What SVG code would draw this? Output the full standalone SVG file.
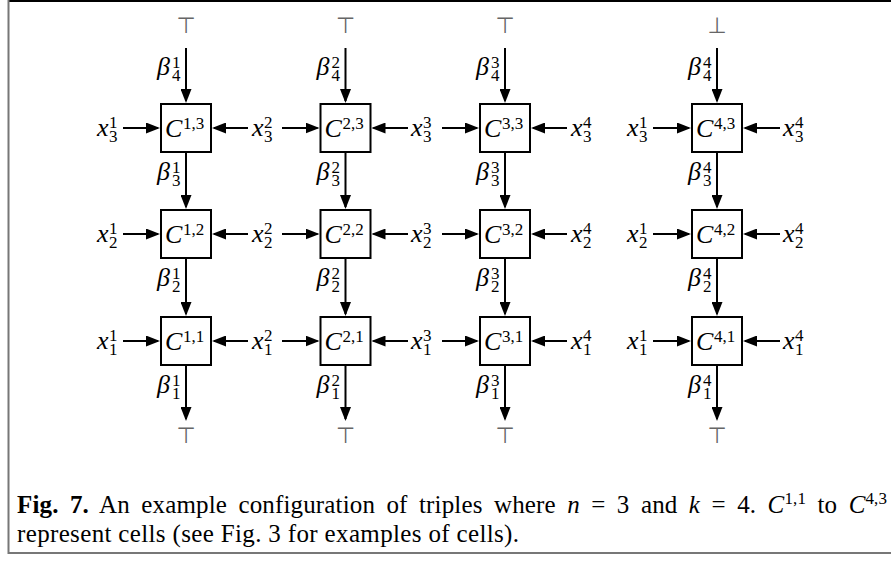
<svg xmlns="http://www.w3.org/2000/svg" width="891" height="561" viewBox="0 0 891 561">
<defs>
<marker id="ah" markerUnits="userSpaceOnUse" markerWidth="14" markerHeight="11" refX="12" refY="5.5" orient="auto">
<path d="M0,0 L14,5.5 L0,11 z" fill="#000"/>
</marker>
<style>
.box{fill:#fff;stroke:#000;stroke-width:2}
.ln{stroke:#000;stroke-width:2;fill:none;marker-end:url(#ah)}
.lb{font-family:"Liberation Serif",serif;fill:#000}
.m{font-style:italic;font-size:26px}
.s{font-style:normal;font-size:17px}
.tb{font-family:"DejaVu Sans",sans-serif;font-size:22px;fill:#666;text-anchor:middle}
.cap{font-family:"Liberation Serif",serif;font-size:25px;fill:#000}
</style>
</defs>
<rect x="0" y="0" width="891" height="561" fill="#fff"/>
<g id="frame">
<line x1="8" y1="1" x2="891" y2="1" stroke="#000" stroke-width="2"/>
<line x1="8.5" y1="0" x2="8.5" y2="554" stroke="#777" stroke-width="2"/>
<line x1="8" y1="553" x2="891" y2="553" stroke="#777" stroke-width="2"/>
</g>
<g id="connectors">
<line class="ln" x1="186" y1="48" x2="186" y2="101"/>
<line class="ln" x1="186" y1="153" x2="186" y2="207"/>
<line class="ln" x1="186" y1="259" x2="186" y2="314"/>
<line class="ln" x1="186" y1="366" x2="186" y2="419"/>
<line class="ln" x1="345.5" y1="48" x2="345.5" y2="101"/>
<line class="ln" x1="345.5" y1="153" x2="345.5" y2="207"/>
<line class="ln" x1="345.5" y1="259" x2="345.5" y2="314"/>
<line class="ln" x1="345.5" y1="366" x2="345.5" y2="419"/>
<line class="ln" x1="505" y1="48" x2="505" y2="101"/>
<line class="ln" x1="505" y1="153" x2="505" y2="207"/>
<line class="ln" x1="505" y1="259" x2="505" y2="314"/>
<line class="ln" x1="505" y1="366" x2="505" y2="419"/>
<line class="ln" x1="717" y1="48" x2="717" y2="101"/>
<line class="ln" x1="717" y1="153" x2="717" y2="207"/>
<line class="ln" x1="717" y1="259" x2="717" y2="314"/>
<line class="ln" x1="717" y1="366" x2="717" y2="419"/>
<line class="ln" x1="123" y1="128" x2="158" y2="128"/>
<line class="ln" x1="248" y1="128" x2="214" y2="128"/>
<line class="ln" x1="282" y1="128" x2="317.5" y2="128"/>
<line class="ln" x1="408" y1="128" x2="373.5" y2="128"/>
<line class="ln" x1="442" y1="128" x2="477" y2="128"/>
<line class="ln" x1="567" y1="128" x2="533" y2="128"/>
<line class="ln" x1="653" y1="128" x2="689" y2="128"/>
<line class="ln" x1="780" y1="128" x2="745" y2="128"/>
<line class="ln" x1="123" y1="234" x2="158" y2="234"/>
<line class="ln" x1="248" y1="234" x2="214" y2="234"/>
<line class="ln" x1="282" y1="234" x2="317.5" y2="234"/>
<line class="ln" x1="408" y1="234" x2="373.5" y2="234"/>
<line class="ln" x1="442" y1="234" x2="477" y2="234"/>
<line class="ln" x1="567" y1="234" x2="533" y2="234"/>
<line class="ln" x1="653" y1="234" x2="689" y2="234"/>
<line class="ln" x1="780" y1="234" x2="745" y2="234"/>
<line class="ln" x1="123" y1="341" x2="158" y2="341"/>
<line class="ln" x1="248" y1="341" x2="214" y2="341"/>
<line class="ln" x1="282" y1="341" x2="317.5" y2="341"/>
<line class="ln" x1="408" y1="341" x2="373.5" y2="341"/>
<line class="ln" x1="442" y1="341" x2="477" y2="341"/>
<line class="ln" x1="567" y1="341" x2="533" y2="341"/>
<line class="ln" x1="653" y1="341" x2="689" y2="341"/>
<line class="ln" x1="780" y1="341" x2="745" y2="341"/>
</g>
<g id="cells">
<g id="C13"><rect class="box" x="161" y="104" width="50" height="48"/><text class="lb"><tspan class="m" x="165" y="137">C</tspan><tspan class="s" x="183" y="129">1,3</tspan></text></g>
<g id="C12"><rect class="box" x="161" y="210" width="50" height="48"/><text class="lb"><tspan class="m" x="165" y="243">C</tspan><tspan class="s" x="183" y="235">1,2</tspan></text></g>
<g id="C11"><rect class="box" x="161" y="317" width="50" height="48"/><text class="lb"><tspan class="m" x="165" y="350">C</tspan><tspan class="s" x="183" y="342">1,1</tspan></text></g>
<g id="C23"><rect class="box" x="320.5" y="104" width="50" height="48"/><text class="lb"><tspan class="m" x="324.5" y="137">C</tspan><tspan class="s" x="342.5" y="129">2,3</tspan></text></g>
<g id="C22"><rect class="box" x="320.5" y="210" width="50" height="48"/><text class="lb"><tspan class="m" x="324.5" y="243">C</tspan><tspan class="s" x="342.5" y="235">2,2</tspan></text></g>
<g id="C21"><rect class="box" x="320.5" y="317" width="50" height="48"/><text class="lb"><tspan class="m" x="324.5" y="350">C</tspan><tspan class="s" x="342.5" y="342">2,1</tspan></text></g>
<g id="C33"><rect class="box" x="480" y="104" width="50" height="48"/><text class="lb"><tspan class="m" x="484" y="137">C</tspan><tspan class="s" x="502" y="129">3,3</tspan></text></g>
<g id="C32"><rect class="box" x="480" y="210" width="50" height="48"/><text class="lb"><tspan class="m" x="484" y="243">C</tspan><tspan class="s" x="502" y="235">3,2</tspan></text></g>
<g id="C31"><rect class="box" x="480" y="317" width="50" height="48"/><text class="lb"><tspan class="m" x="484" y="350">C</tspan><tspan class="s" x="502" y="342">3,1</tspan></text></g>
<g id="C43"><rect class="box" x="692" y="104" width="50" height="48"/><text class="lb"><tspan class="m" x="696" y="137">C</tspan><tspan class="s" x="714" y="129">4,3</tspan></text></g>
<g id="C42"><rect class="box" x="692" y="210" width="50" height="48"/><text class="lb"><tspan class="m" x="696" y="243">C</tspan><tspan class="s" x="714" y="235">4,2</tspan></text></g>
<g id="C41"><rect class="box" x="692" y="317" width="50" height="48"/><text class="lb"><tspan class="m" x="696" y="350">C</tspan><tspan class="s" x="714" y="342">4,1</tspan></text></g>
</g>
<g id="truth">
<text class="tb" x="186" y="33">⊤</text>
<text class="tb" x="345.5" y="33">⊤</text>
<text class="tb" x="505" y="33">⊤</text>
<text class="tb" x="717" y="33">⊥</text>
<text class="tb" x="186" y="443">⊤</text>
<text class="tb" x="345.5" y="443">⊤</text>
<text class="tb" x="505" y="443">⊤</text>
<text class="tb" x="717" y="443">⊤</text>
</g>
<g id="xlabels" class="lb">
<text><tspan class="m" x="97" y="136">x</tspan><tspan class="s" x="109" y="128">1</tspan><tspan class="s" x="109" y="142">3</tspan></text>
<text><tspan class="m" x="252" y="136">x</tspan><tspan class="s" x="264" y="128">2</tspan><tspan class="s" x="264" y="142">3</tspan></text>
<text><tspan class="m" x="411" y="136">x</tspan><tspan class="s" x="423" y="128">3</tspan><tspan class="s" x="423" y="142">3</tspan></text>
<text><tspan class="m" x="571" y="136">x</tspan><tspan class="s" x="583" y="128">4</tspan><tspan class="s" x="583" y="142">3</tspan></text>
<text><tspan class="m" x="627" y="136">x</tspan><tspan class="s" x="639" y="128">1</tspan><tspan class="s" x="639" y="142">3</tspan></text>
<text><tspan class="m" x="783" y="136">x</tspan><tspan class="s" x="795" y="128">4</tspan><tspan class="s" x="795" y="142">3</tspan></text>
<text><tspan class="m" x="97" y="242">x</tspan><tspan class="s" x="109" y="234">1</tspan><tspan class="s" x="109" y="248">2</tspan></text>
<text><tspan class="m" x="252" y="242">x</tspan><tspan class="s" x="264" y="234">2</tspan><tspan class="s" x="264" y="248">2</tspan></text>
<text><tspan class="m" x="411" y="242">x</tspan><tspan class="s" x="423" y="234">3</tspan><tspan class="s" x="423" y="248">2</tspan></text>
<text><tspan class="m" x="571" y="242">x</tspan><tspan class="s" x="583" y="234">4</tspan><tspan class="s" x="583" y="248">2</tspan></text>
<text><tspan class="m" x="627" y="242">x</tspan><tspan class="s" x="639" y="234">1</tspan><tspan class="s" x="639" y="248">2</tspan></text>
<text><tspan class="m" x="783" y="242">x</tspan><tspan class="s" x="795" y="234">4</tspan><tspan class="s" x="795" y="248">2</tspan></text>
<text><tspan class="m" x="97" y="349">x</tspan><tspan class="s" x="109" y="341">1</tspan><tspan class="s" x="109" y="355">1</tspan></text>
<text><tspan class="m" x="252" y="349">x</tspan><tspan class="s" x="264" y="341">2</tspan><tspan class="s" x="264" y="355">1</tspan></text>
<text><tspan class="m" x="411" y="349">x</tspan><tspan class="s" x="423" y="341">3</tspan><tspan class="s" x="423" y="355">1</tspan></text>
<text><tspan class="m" x="571" y="349">x</tspan><tspan class="s" x="583" y="341">4</tspan><tspan class="s" x="583" y="355">1</tspan></text>
<text><tspan class="m" x="627" y="349">x</tspan><tspan class="s" x="639" y="341">1</tspan><tspan class="s" x="639" y="355">1</tspan></text>
<text><tspan class="m" x="783" y="349">x</tspan><tspan class="s" x="795" y="341">4</tspan><tspan class="s" x="795" y="355">1</tspan></text>
</g>
<g id="betalabels" class="lb">
<text><tspan class="m" x="157" y="75">β</tspan><tspan class="s" x="172" y="68">1</tspan><tspan class="s" x="172" y="81">4</tspan></text>
<text><tspan class="m" x="157" y="180">β</tspan><tspan class="s" x="172" y="173">1</tspan><tspan class="s" x="172" y="186">3</tspan></text>
<text><tspan class="m" x="157" y="286">β</tspan><tspan class="s" x="172" y="279">1</tspan><tspan class="s" x="172" y="292">2</tspan></text>
<text><tspan class="m" x="157" y="393">β</tspan><tspan class="s" x="172" y="386">1</tspan><tspan class="s" x="172" y="399">1</tspan></text>
<text><tspan class="m" x="316.5" y="75">β</tspan><tspan class="s" x="331.5" y="68">2</tspan><tspan class="s" x="331.5" y="81">4</tspan></text>
<text><tspan class="m" x="316.5" y="180">β</tspan><tspan class="s" x="331.5" y="173">2</tspan><tspan class="s" x="331.5" y="186">3</tspan></text>
<text><tspan class="m" x="316.5" y="286">β</tspan><tspan class="s" x="331.5" y="279">2</tspan><tspan class="s" x="331.5" y="292">2</tspan></text>
<text><tspan class="m" x="316.5" y="393">β</tspan><tspan class="s" x="331.5" y="386">2</tspan><tspan class="s" x="331.5" y="399">1</tspan></text>
<text><tspan class="m" x="476" y="75">β</tspan><tspan class="s" x="491" y="68">3</tspan><tspan class="s" x="491" y="81">4</tspan></text>
<text><tspan class="m" x="476" y="180">β</tspan><tspan class="s" x="491" y="173">3</tspan><tspan class="s" x="491" y="186">3</tspan></text>
<text><tspan class="m" x="476" y="286">β</tspan><tspan class="s" x="491" y="279">3</tspan><tspan class="s" x="491" y="292">2</tspan></text>
<text><tspan class="m" x="476" y="393">β</tspan><tspan class="s" x="491" y="386">3</tspan><tspan class="s" x="491" y="399">1</tspan></text>
<text><tspan class="m" x="688" y="75">β</tspan><tspan class="s" x="703" y="68">4</tspan><tspan class="s" x="703" y="81">4</tspan></text>
<text><tspan class="m" x="688" y="180">β</tspan><tspan class="s" x="703" y="173">4</tspan><tspan class="s" x="703" y="186">3</tspan></text>
<text><tspan class="m" x="688" y="286">β</tspan><tspan class="s" x="703" y="279">4</tspan><tspan class="s" x="703" y="292">2</tspan></text>
<text><tspan class="m" x="688" y="393">β</tspan><tspan class="s" x="703" y="386">4</tspan><tspan class="s" x="703" y="399">1</tspan></text>
</g>
<g id="caption">
<text class="cap" x="17" y="513" word-spacing="5" textLength="870" lengthAdjust="spacing"><tspan font-weight="bold">Fig. 7.</tspan> An example configuration of triples where <tspan font-style="italic">n</tspan> = 3 and <tspan font-style="italic">k</tspan> = 4. <tspan font-style="italic">C</tspan><tspan font-size="17" dy="-9">1,1</tspan><tspan dy="9"> to </tspan><tspan font-style="italic">C</tspan><tspan font-size="17" dy="-9">4,3</tspan></text>
<text class="cap" x="17" y="542" textLength="502" lengthAdjust="spacing">represent cells (see Fig. 3 for examples of cells).</text>
</g>
</svg>
